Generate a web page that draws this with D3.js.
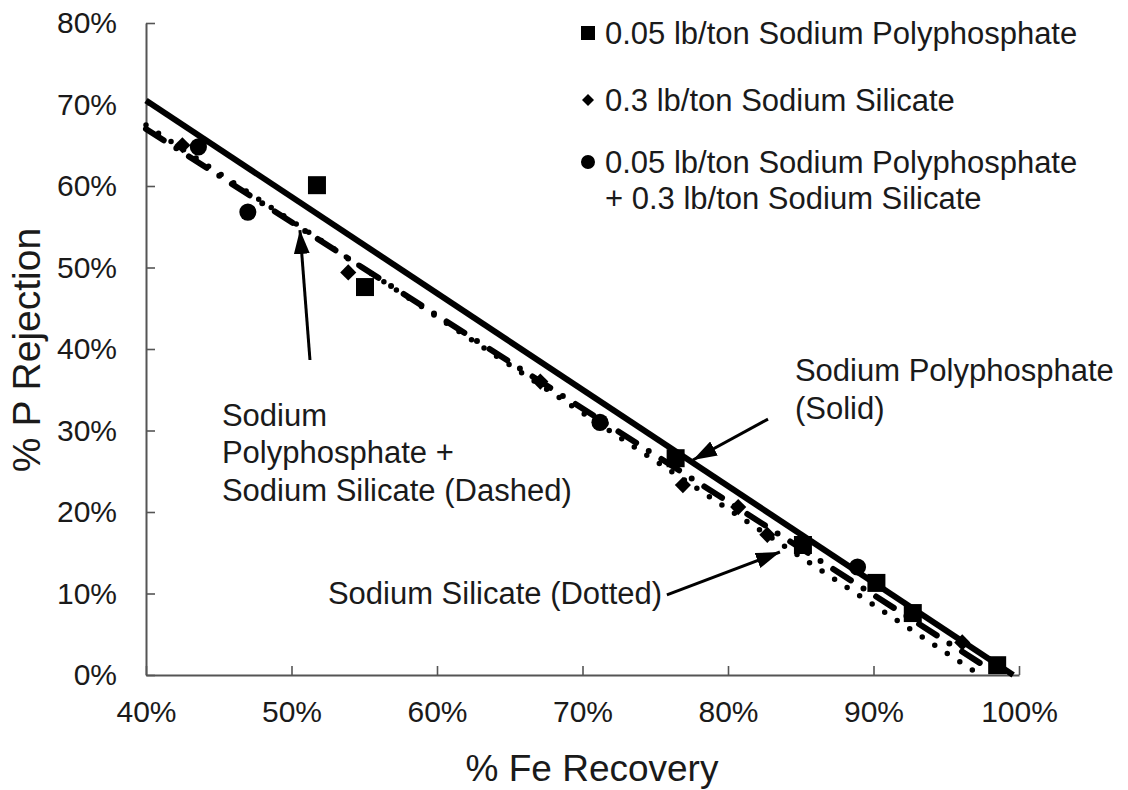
<!DOCTYPE html>
<html><head><meta charset="utf-8">
<script src="https://cdn.jsdelivr.net/npm/d3@7/dist/d3.min.js"></script>
<style>body{margin:0;background:#fff}svg{display:block}text{font-family:"Liberation Sans",Arial,sans-serif;fill:#1a1a1a}</style>
</head><body>
<script>
// ---- data ----
const xTickValues = [0.4, 0.5, 0.6, 0.7, 0.8, 0.9, 1.0];
const yTickValues = [0, 0.1, 0.2, 0.3, 0.4, 0.5, 0.6, 0.7, 0.8];

const polyphosphateX = [0.5175, 0.5505, 0.764, 0.8515, 0.902, 0.927, 0.985];
const polyphosphateY = [0.601, 0.476, 0.266, 0.1595, 0.113, 0.076, 0.012];

const silicateX = [0.425, 0.539, 0.671, 0.769, 0.807, 0.827, 0.961];
const silicateY = [0.650, 0.494, 0.360, 0.233, 0.206, 0.172, 0.040];

const comboX = [0.436, 0.470, 0.712, 0.889];
const comboY = [0.648, 0.568, 0.310, 0.1325];

// trend lines (endpoints)
const solidFitX = [0.40, 0.996], solidFitY = [0.705, 0.0];
const dashedFitX = [0.40, 0.986], dashedFitY = [0.670, 0.0];
const dottedFitX = [0.40, 0.973], dottedFitY = [0.675, 0.0];

const legendLabels = [
  ["0.05 lb/ton Sodium Polyphosphate"],
  ["0.3 lb/ton Sodium Silicate"],
  ["0.05 lb/ton Sodium Polyphosphate", "+ 0.3 lb/ton Sodium Silicate"]
];

const annotations = [
  {lines: ["Sodium Polyphosphate", "(Solid)"], x: 0.846, y: 0.374, tail: [0.8275, 0.314], tip: [0.7759, 0.2638]},
  {lines: ["Sodium", "Polyphosphate +", "Sodium Silicate (Dashed)"], x: 0.4522, y: 0.319, tail: [0.5127, 0.3865], tip: [0.5058, 0.546]},
  {lines: ["Sodium Silicate (Dotted)"], x: 0.525, y: 0.1006, tail: [0.758, 0.0982], tip: [0.8357, 0.1509]}
];

// ---- chart ----
const W = 1128, H = 790;
const svg = d3.select("body").append("svg").attr("width", W).attr("height", H);
const x = d3.scaleLinear().domain([0.4, 1.0]).range([146, 1019]);
const y = d3.scaleLinear().domain([0, 0.8]).range([675, 23]);
const pct = d3.format(".0%");
const axisColor = "#555";

const gx = svg.append("g").attr("transform", `translate(0,${y(0)})`)
  .call(d3.axisBottom(x).tickValues(xTickValues).tickFormat(pct).tickSizeInner(-9).tickSizeOuter(0).tickPadding(26));
const gy = svg.append("g").attr("transform", `translate(${x(0.4)},0)`)
  .call(d3.axisLeft(y).tickValues(yTickValues).tickFormat(pct).tickSizeInner(-9).tickSizeOuter(0).tickPadding(29));
[gx, gy].forEach(g => {
  g.select(".domain").attr("stroke", axisColor).attr("stroke-width", 2);
  g.selectAll(".tick line").attr("stroke", axisColor).attr("stroke-width", 1.6);
  g.selectAll(".tick text").attr("font-size", 30).attr("fill", "#1a1a1a")
    .attr("font-family", '"Liberation Sans",Arial,sans-serif');
});
gx.selectAll(".tick text").attr("dy", "0.71em");

// axis titles
svg.append("text").attr("x", 592).attr("y", 768).attr("dy", "0.36em").attr("text-anchor", "middle")
  .attr("font-size", 37).text("% Fe Recovery");
svg.append("text").attr("transform", "translate(26,350) rotate(-90)").attr("dy", "0.36em")
  .attr("text-anchor", "middle").attr("font-size", 39).text("% P Rejection");

// lines
const line = d3.line().x(d => x(d[0])).y(d => y(d[1]));
const zip = (a, b) => a.map((v, i) => [v, b[i]]);
svg.append("path").attr("d", line(zip(dottedFitX, dottedFitY))).attr("fill", "none").attr("stroke", "#000")
  .attr("stroke-width", 5.5).attr("stroke-linecap", "round").attr("stroke-dasharray", "0,15");
svg.append("path").attr("d", line(zip(dashedFitX, dashedFitY))).attr("fill", "none").attr("stroke", "#000")
  .attr("stroke-width", 6).attr("stroke-linecap", "round").attr("stroke-dasharray", "21,15,0,15");
svg.append("path").attr("d", line(zip(solidFitX, solidFitY))).attr("fill", "none").attr("stroke", "#000")
  .attr("stroke-width", 6);

// markers
const sq = d3.symbol().type(d3.symbolSquare);
svg.append("g").selectAll("path").data(zip(polyphosphateX, polyphosphateY)).join("path")
  .attr("d", sq.size(324)()).attr("transform", d => `translate(${x(d[0])},${y(d[1])})`).attr("fill", "#000");
svg.append("g").selectAll("path").data(zip(silicateX, silicateY)).join("path")
  .attr("d", d3.symbol().type(d3.symbolSquare).size(130)()).attr("transform", d => `translate(${x(d[0])},${y(d[1])}) rotate(45)`).attr("fill", "#000");
svg.append("g").selectAll("path").data(zip(comboX, comboY)).join("path")
  .attr("d", d3.symbol().type(d3.symbolCircle).size(230)()).attr("transform", d => `translate(${x(d[0])},${y(d[1])})`).attr("fill", "#000");

// annotations
const defs = svg.append("defs");
defs.append("marker").attr("id", "ah").attr("viewBox", "0 0 24 16").attr("refX", 24).attr("refY", 8)
  .attr("markerWidth", 24).attr("markerHeight", 16).attr("markerUnits", "userSpaceOnUse").attr("orient", "auto")
  .append("path").attr("d", "M0,0 L24,8 L0,16 Z").attr("fill", "#000");
annotations.forEach(a => {
  const t = svg.append("text").attr("x", x(a.x)).attr("y", y(a.y)).attr("font-size", 31);
  a.lines.forEach((l, i) => t.append("tspan").attr("x", x(a.x)).attr("dy", i === 0 ? "0.36em" : "1.2em").text(l));
  svg.append("line").attr("x1", x(a.tail[0])).attr("y1", y(a.tail[1])).attr("x2", x(a.tip[0])).attr("y2", y(a.tip[1]))
    .attr("stroke", "#000").attr("stroke-width", 3).attr("marker-end", "url(#ah)");
});

// legend
const legendY = [33, 100, 162];
const legendSym = [
  {type: d3.symbolSquare, size: 196, rot: 0},
  {type: d3.symbolSquare, size: 72, rot: 45},
  {type: d3.symbolCircle, size: 154, rot: 0}
];
legendLabels.forEach((lines, i) => {
  svg.append("path").attr("d", d3.symbol().type(legendSym[i].type).size(legendSym[i].size)())
    .attr("transform", `translate(588,${legendY[i]}) rotate(${legendSym[i].rot})`).attr("fill", "#000");
  const t = svg.append("text").attr("y", legendY[i]).attr("font-size", 31);
  lines.forEach((l, j) => t.append("tspan").attr("x", 605).attr("dy", j === 0 ? "0.36em" : "1.17em").text(l));
});
</script>
</body></html>
